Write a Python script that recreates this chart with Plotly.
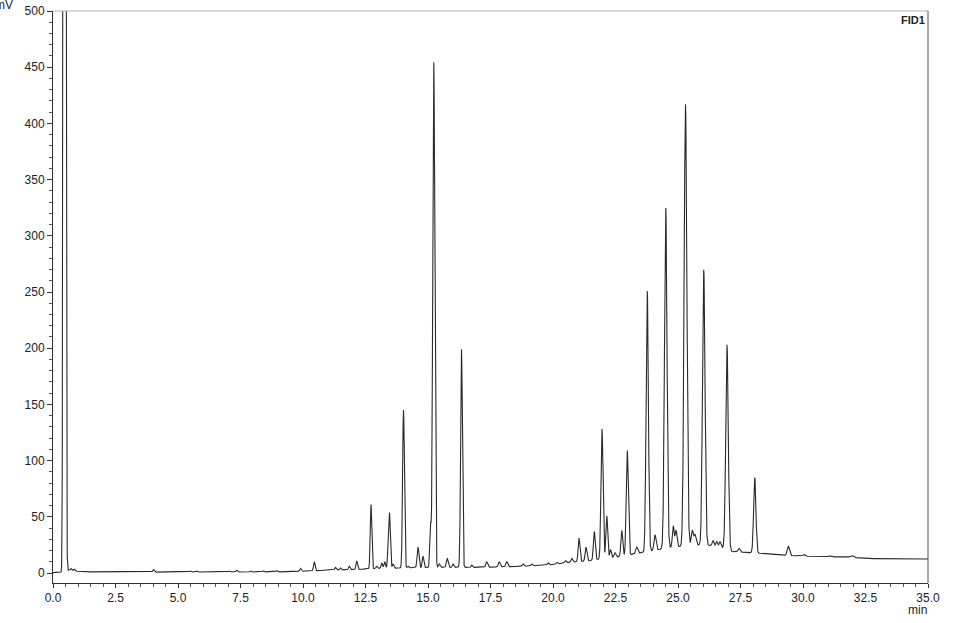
import numpy as np
import plotly.graph_objects as go

# Baseline (min, mV)
base_t = [0.0, 0.38, 0.55, 0.7, 1.0, 1.5, 2.0, 5.0, 9.0, 10.0, 11.0, 12.0, 13.0, 14.0, 15.0,
          16.0, 17.0, 18.0, 19.0, 20.0, 20.5, 21.0, 21.5, 22.0, 22.5, 23.0, 23.5, 24.0,
          24.5, 25.0, 25.5, 26.0, 26.5, 26.85, 27.2, 28.0, 28.3, 29.0, 30.0, 31.0, 32.0,
          32.5, 35.0]
base_v = [0.3, 0.3, 2.5, 2.2, 1.5, 1.0, 0.8, 0.8, 1.0, 1.5, 2.5, 3.0, 4.0, 4.5, 5.0,
          5.0, 5.0, 5.5, 6.0, 7.5, 9.0, 10.0, 11.0, 13.0, 14.0, 16.0, 18.0, 20.0,
          22.0, 23.5, 24.5, 25.0, 24.0, 22.0, 19.0, 18.0, 17.5, 16.0, 15.0, 14.5, 14.0,
          12.8, 12.5]

# Peak table: retention time (min), apex signal (mV), width (min)
peak_t = [0.46, 0.72, 0.85, 4.02, 5.5, 5.75, 7.05, 7.35, 7.9, 8.4, 8.95, 9.9, 10.45,
          11.3, 11.5, 11.85, 12.15, 12.72, 12.95, 13.15, 13.27, 13.4, 13.46, 13.6,
          14.02, 14.2, 14.6, 14.8, 15.1, 15.23, 15.45, 15.77, 16.0, 16.34, 16.75,
          17.35, 17.85, 18.15, 18.8, 19.15, 19.8, 20.15, 20.5, 20.75, 21.04, 21.32,
          21.65, 21.96, 22.15, 22.3, 22.48, 22.75, 22.97, 23.35, 23.77, 24.08, 24.51,
          24.81, 24.92, 25.3, 25.57, 25.68, 26.03, 26.4, 26.55, 26.68, 26.96, 27.44,
          28.07, 29.41, 30.04, 31.08, 31.95]
peak_h = [5000, 4, 3.5, 3, 1.8, 1.7, 1.8, 2.5, 2, 2, 2.2, 4, 10,
          5, 4.5, 6, 10.7, 61, 6, 9, 10, 19, 53, 8,
          145, 6, 23, 15, 42, 455, 8, 13, 8, 199, 7,
          10, 10, 10, 8, 8, 9, 9.5, 11, 13, 31, 23,
          37, 128, 51, 21, 18, 38, 109, 23, 251, 34, 325,
          42, 38, 417, 38, 34, 270, 29, 28, 28, 203, 22,
          85, 24, 16.5, 15.5, 15.5]
peak_w = [0.032, 0.03, 0.03, 0.03, 0.03, 0.03, 0.03, 0.03, 0.03, 0.03, 0.03, 0.03, 0.03,
          0.03, 0.03, 0.03, 0.03, 0.03, 0.03, 0.03, 0.03, 0.025, 0.03, 0.03,
          0.035, 0.03, 0.035, 0.03, 0.03, 0.04, 0.03, 0.035, 0.03, 0.035, 0.03,
          0.035, 0.035, 0.035, 0.035, 0.035, 0.035, 0.035, 0.035, 0.035, 0.035, 0.035,
          0.035, 0.04, 0.035, 0.03, 0.035, 0.035, 0.04, 0.04, 0.045, 0.04, 0.05,
          0.035, 0.035, 0.055, 0.04, 0.04, 0.05, 0.035, 0.035, 0.035, 0.05, 0.04,
          0.045, 0.045, 0.04, 0.05, 0.05]

x_ticks = [0.0, 2.5, 5.0, 7.5, 10.0, 12.5, 15.0, 17.5, 20.0, 22.5, 25.0, 27.5, 30.0, 32.5, 35.0]
y_ticks = [0, 50, 100, 150, 200, 250, 300, 350, 400, 450, 500]

# Build the trace
t = np.arange(0.0, 35.0001, 0.004)
sig = np.interp(t, base_t, base_v)
for pt, ph, pw in zip(peak_t, peak_h, peak_w):
    amp = ph - np.interp(pt, base_t, base_v)
    sig = sig + amp * np.exp(-0.5 * ((t - pt) / pw) ** 2)

fig = go.Figure()
fig.add_trace(go.Scatter(x=t, y=sig, mode="lines",
                         line=dict(color="#2a2a2a", width=1.1),
                         hoverinfo="skip", showlegend=False))

font = dict(family="Liberation Sans, Arial, sans-serif", size=12, color="#222")

fig.update_layout(
    width=958, height=623,
    margin=dict(l=53, r=30, t=11, b=40, autoexpand=False),
    paper_bgcolor="white", plot_bgcolor="white",
    font=font,
    showlegend=False,
    hovermode=False,
    xaxis=dict(range=[0, 35], tickvals=x_ticks,
               ticktext=[f"{v:.1f}" for v in x_ticks],
               showgrid=False, zeroline=False, automargin=False,
               showline=True, linecolor="#333", linewidth=1,
               ticks="outside", ticklen=4, tickcolor="#333",
               minor=dict(dtick=0.5, ticks="outside", ticklen=3, tickcolor="#555", showgrid=False),
               tickfont=font),
    yaxis=dict(range=[-8.9, 500], tickvals=y_ticks,
               showgrid=False, zeroline=False, automargin=False,
               showline=True, linecolor="#333", linewidth=1,
               ticks="outside", ticklen=5, tickcolor="#333",
               minor=dict(tickvals=list(range(0, 501, 10)), ticks="outside", ticklen=3,
                          tickcolor="#555", showgrid=False),
               tickfont=font),
)

# Frame: light top line, darker right line
fig.add_shape(type="line", xref="paper", yref="paper", x0=0, x1=1, y0=1, y1=1,
              line=dict(color="#b0b0b0", width=1))
fig.add_shape(type="line", xref="paper", yref="paper", x0=1, x1=1, y0=0, y1=1,
              line=dict(color="#555", width=1))

fig.add_annotation(text="mV", xref="paper", yref="paper", x=-0.0434, y=1.0,
                   xanchor="right", yanchor="middle", yshift=6, showarrow=False,
                   font=font)
fig.add_annotation(text="<b>FID1</b>", xref="paper", yref="paper", x=1, y=1,
                   xanchor="right", yanchor="top", xshift=-1, yshift=-1, showarrow=False,
                   font=dict(family="Liberation Sans, Arial, sans-serif", size=11, color="#222"))
fig.add_annotation(text="min", xref="paper", yref="paper", x=1, y=0,
                   xanchor="right", yanchor="middle", yshift=-27, xshift=1, showarrow=False,
                   font=font)

fig.write_html("out.html", config={"displayModeBar": False},
               post_script="document.body.style.margin='0';")
